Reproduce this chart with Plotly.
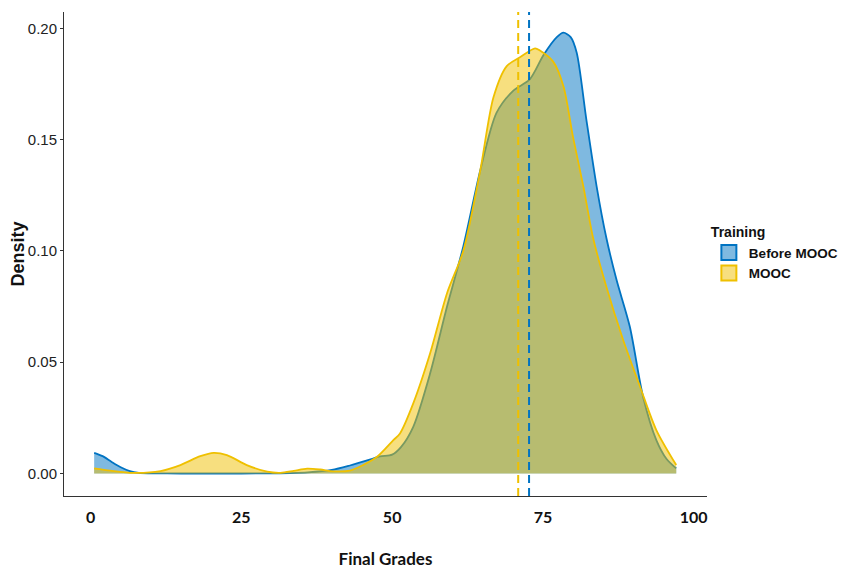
import plotly.graph_objects as go

# ---- data ----
before_x = [0.6, 2, 3.5, 5, 6.5, 8, 10, 15, 20, 25, 30, 33, 36, 40, 43, 46, 48, 50,
            51.5, 53.5, 56.3, 59.1, 61.8, 64.6, 67.3, 70.1, 72.8, 75.1, 77.3, 78.4,
            79.6, 80.6, 82.2, 83.9, 85.5, 87.2, 89.4, 91.6, 93.8, 95.5, 97.1]
before_d = [0.0093, 0.0078, 0.0052, 0.0028, 0.0011, 0.0003, 0.0001, 0.0, 0.0, 0.0,
            0.0001, 0.0002, 0.0005, 0.0016, 0.0036, 0.0060, 0.0077, 0.0085,
            0.0120, 0.0210, 0.0450, 0.0750, 0.1020, 0.1360, 0.1620, 0.1720, 0.1770,
            0.1880, 0.1960, 0.1980, 0.1960, 0.1890, 0.1590, 0.1290, 0.1060, 0.0870,
            0.0660, 0.0345, 0.0150, 0.0065, 0.0023]

mooc_x = [0.6, 3.3, 7.1, 11.6, 14.9, 18.2, 20.4, 22.6, 25.9, 29.3, 31.5, 33.7, 35.9,
          38.1, 40.2, 43, 45.2, 47.5, 50.2, 51.3, 53.5, 56.3, 59.1, 61.8, 64.6, 66.8,
          69, 71.2, 73.7, 74.5, 76.7, 78.4, 80, 81.7, 83.3, 85.5, 88.3, 91.1, 93.8, 97.1]
mooc_d = [0.0023, 0.0013, 0.0003, 0.0011, 0.0038, 0.0078, 0.0093, 0.0083, 0.0038,
          0.0008, 0.0003, 0.0012, 0.0022, 0.0018, 0.0010, 0.0013, 0.0038, 0.0075,
          0.0150, 0.0180, 0.0315, 0.0540, 0.0810, 0.1000, 0.1360, 0.1690, 0.1830,
          0.1870, 0.1910, 0.1900, 0.1850, 0.1740, 0.1510, 0.1290, 0.1060, 0.0840,
          0.0600, 0.0390, 0.0195, 0.0038]

group_names = ["Before MOOC", "MOOC"]
group_means = [72.7, 70.9]

x_ticks = [0, 25, 50, 75, 100]
y_ticks = [0.00, 0.05, 0.10, 0.15, 0.20]
y_tick_labels = ["0.00", "0.05", "0.10", "0.15", "0.20"]

# ---- styles ----
line_cols = ["#0073C2", "#EFC000"]
fill_cols = ["rgba(0,115,194,0.5)", "rgba(239,192,0,0.5)"]

fig = go.Figure()
series = [(before_x, before_d), (mooc_x, mooc_d)]
for (xs, ds), name, lc, fc in zip(series, group_names, line_cols, fill_cols):
    fig.add_trace(go.Scatter(
        x=xs, y=ds, mode="lines", name=name, showlegend=False,
        line=dict(color=lc, width=1.8, shape="spline", smoothing=0.8),
        fill="tozeroy", fillcolor=fc, hoverinfo="skip"))

# legend keys
for name, lc, fc in zip(group_names, line_cols, fill_cols):
    fig.add_trace(go.Scatter(
        x=[None], y=[None], mode="markers", name=name,
        marker=dict(symbol="square", size=15, color=fc, line=dict(color=lc, width=2))))

# mean lines
for m, lc in zip(group_means, line_cols):
    fig.add_shape(type="line", xref="x", yref="paper", x0=m, x1=m, y0=0, y1=1,
                  line=dict(color=lc, width=2, dash="8px,5px"))

fig.update_layout(
    width=848, height=573,
    margin=dict(l=56, r=149, t=4, b=85, autoexpand=False),
    paper_bgcolor="white", plot_bgcolor="white",
    font=dict(family="Liberation Sans, Arial, sans-serif", color="#111"),
    legend=dict(
        title=dict(text="Training", font=dict(family="Liberation Sans", size=14,
                                              weight="bold", color="#111")),
        font=dict(family="Liberation Sans", size=13.5, weight="bold", color="#111"),
        xref="container", x=0.8265, xanchor="left", y=0.50, yanchor="middle",
        bgcolor="rgba(0,0,0,0)", tracegroupgap=0, itemwidth=30),
    xaxis=dict(
        range=[-4.4, 102.2], tickvals=x_ticks, showgrid=False, zeroline=False,
        showline=True, linecolor="#333", linewidth=1,
        ticks="outside", ticklen=7, tickcolor="rgba(0,0,0,0)",
        tickfont=dict(family="Lato", size=16, weight="bold", color="#111"),
        title=dict(text="Final Grades", standoff=27,
                   font=dict(family="Lato", size=17, weight="bold", color="#111"))),
    yaxis=dict(
        range=[-0.0101, 0.2073], tickvals=y_ticks, ticktext=y_tick_labels,
        showgrid=False, zeroline=False,
        showline=True, linecolor="#333", linewidth=1,
        ticks="outside", ticklen=3, tickcolor="#333",
        tickfont=dict(family="Liberation Sans", size=15, color="#222"),
        title=dict(text="Density", standoff=4,
                   font=dict(family="Liberation Sans", size=18, weight="bold",
                             color="#111"))),
)

fig.write_html("out.html")
